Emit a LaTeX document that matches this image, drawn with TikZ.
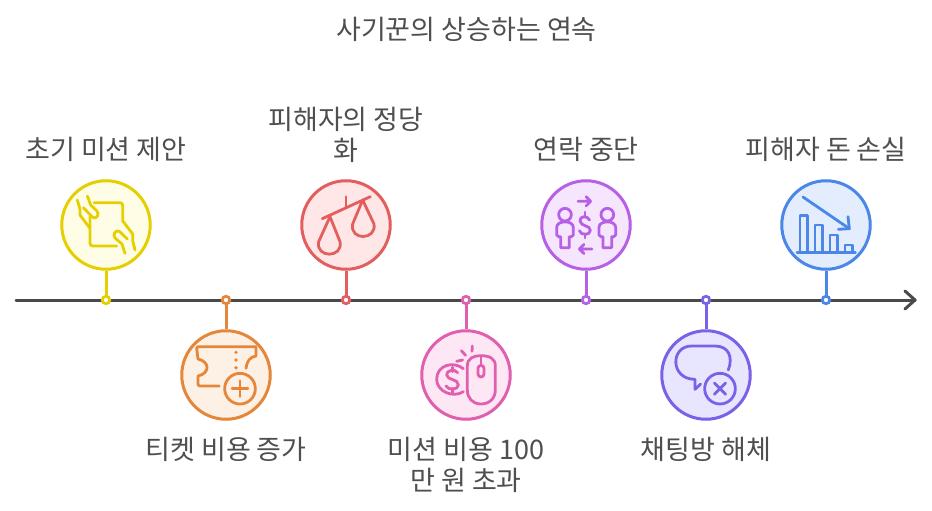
\documentclass[tikz,border=0pt]{standalone}
\usepackage{fontspec}
\setmainfont{Noto Sans CJK KR}
\definecolor{yel}{HTML}{E6CF00}\definecolor{yelf}{HTML}{FFFDE6}
\definecolor{ora}{HTML}{E5873B}\definecolor{oraf}{HTML}{FDF0E4}
\definecolor{red1}{HTML}{E35F5F}\definecolor{red1f}{HTML}{FEE7E6}
\definecolor{pin}{HTML}{E05FAE}\definecolor{pinf}{HTML}{FDE7F5}
\definecolor{pur}{HTML}{B760E6}\definecolor{purf}{HTML}{F5E6FE}
\definecolor{vio}{HTML}{7B61E8}\definecolor{viof}{HTML}{E8E5FF}
\definecolor{blu}{HTML}{4A87E8}\definecolor{bluf}{HTML}{E3EDFE}
\definecolor{axisc}{HTML}{4A4A4A}\definecolor{txt}{HTML}{4F4F4F}
\tikzset{
 disc/.style={circle,draw=#1,fill=#1f,line width=3pt,minimum size=88.5pt,inner sep=0pt},
 dotn/.style={circle,draw=#1,fill=white,line width=2.7pt,minimum size=7.5pt,inner sep=0pt},
 stem/.style={draw=#1,line width=3pt},
 ico/.style={draw=#1,line width=2.8pt,line cap=round,line join=round},
 lab/.style={text=txt,font=\fontsize{27}{31}\selectfont,align=center,inner sep=0pt},
 axisl/.style={draw=axisc,line width=3pt,line cap=round,line join=round}
}
\begin{document}
\begin{tikzpicture}[x=1pt,y=-1pt]
\useasboundingbox (0,0) rectangle (932,511);
\fill[white] (0,0) rectangle (932,511);
\coordinate (axs) at (16,300);
\coordinate (axe) at (915,300);
\coordinate (axa) at (905,291);
\coordinate (axb) at (905,309);
\draw[axisl] (axs) -- (axe);
\draw[axisl] (axa) -- (axe) -- (axb);
\node[lab] (title) at (466.5,29.5) {사기꾼의 상승하는 연속};
% circles
\node[disc=yel] (c1) at (106,225) {};
\node[disc=ora] (c2) at (226,375) {};
\node[disc=red1] (c3) at (346,225) {};
\node[disc=pin] (c4) at (466,375) {};
\node[disc=pur] (c5) at (586,225) {};
\node[disc=vio] (c6) at (706,375) {};
\node[disc=blu] (c7) at (826,225) {};
\foreach \i/\c in {1/yel,2/ora,3/red1,4/pin,5/pur,6/vio,7/blu}{
 \pgfmathsetmacro{\xx}{106+120*(\i-1)}
 \draw[stem=\c] (c\i) -- (\xx,300);
 \node[dotn=\c] (d\i) at (\xx,300) {};
}
% labels
\node[lab] (l1) at (106,149.5) {초기 미션 제안};
\node[lab] (l2) at (226,449.5) {티켓 비용 증가};
\node[lab] (l3) at (346,134.5) {피해자의 정당\\화};
\node[lab] (l4) at (466,464.5) {미션 비용 100\\만 원 초과};
\node[lab] (l5) at (586,149.5) {연락 중단};
\node[lab] (l6) at (706,449.5) {채팅방 해체};
\node[lab] (l7) at (826,149.5) {피해자 돈 손실};
% icon 1
\begin{scope}[shift={(50,170)},scale=1/3]
\draw[ico=yel] (132,98) -- (210,98) arc (-90:0:8) -- (218,155);
\draw[ico=yel] (120,140) -- (120,220) arc (180:90:8) -- (200,228);
\draw[ico=yel] (82,90) -- (90,118) -- (90,135) -- (120,175);
\draw[ico=yel] (112,78) -- (122,105) -- (140,122) .. controls (150,132) and (140,150) .. (128,142) -- (100,113);
\draw[ico=yel] (255,240) -- (248,212) -- (248,192) -- (220,155);
\draw[ico=yel] (225,250) -- (216,222) -- (196,205) .. controls (186,195) and (196,178) .. (208,184) -- (232,207);
\end{scope}
% icon 2
\begin{scope}[shift={(170,290)},scale=1/3]
\draw[ico=ora] (148,288) -- (90,288) arc (90:180:6) -- (84,258) .. controls (120,250) and (120,215) .. (84,207) -- (80,176) arc (180:270:6) -- (258,170) -- (258,198) .. controls (240,200) and (230,215) .. (228,235);
\fill[ora] (198,187) circle (5.5) (198,210) circle (5.5) (198,233) circle (5.5);
\draw[ico=ora] (210,296) circle (46);
\draw[ico=ora] (210,272) -- (210,320) (186,296) -- (234,296);
\end{scope}
% icon 3
\begin{scope}[shift={(290,170)},scale=1/3]
\draw[ico=red1] (97,146) -- (241,80);
\draw[ico=red1] (168,80) -- (168,112);
\draw[ico=red1] (120,140) -- (86,215) .. controls (76,265) and (160,265) .. (150,215) -- cycle;
\draw[ico=red1] (218,90) -- (188,162) .. controls (178,212) and (260,212) .. (252,162) -- cycle;
\end{scope}
% icon 4
\begin{scope}[shift={(410,290)},scale=1/3]
\draw[ico=pin] (172,228) .. controls (172,205) and (190,197) .. (212,197) .. controls (238,197) and (256,205) .. (256,228) -- (256,300) .. controls (256,325) and (238,342) .. (213,342) .. controls (188,342) and (172,325) .. (172,300) -- cycle;
\draw[ico=pin] (213,197) -- (213,226);
\draw[ico=pin] (204,235) arc (180:360:9) -- (222,252) arc (0:180:9) -- cycle;
\draw[ico=pin] (160,236) .. controls (130,212) and (80,225) .. (80,268) .. controls (80,305) and (130,325) .. (160,305);
\draw[ico=pin] (143,248) .. controls (135,236) and (108,240) .. (110,255) .. controls (112,272) and (145,265) .. (145,285) .. controls (145,300) and (115,302) .. (108,288);
\draw[ico=pin] (127,232) -- (127,245) (127,295) -- (127,308);
\draw[ico=pin] (140,214) -- (158,210) (154,182) -- (167,196) (187,168) -- (186,184);
\end{scope}
% icon 5
\begin{scope}[shift={(530,170)},scale=1/3]
\draw[ico=pur] (105,134) circle (19);
\draw[ico=pur] (92,233) -- (118,233) -- (118,200) -- (124,200) -- (130,195) -- (130,172) .. controls (130,150) and (80,150) .. (80,172) -- (80,195) -- (86,200) -- (92,200) -- cycle;
\draw[ico=pur] (232,134) circle (19);
\draw[ico=pur] (219,233) -- (245,233) -- (245,200) -- (251,200) -- (257,195) -- (257,172) .. controls (257,150) and (207,150) .. (207,172) -- (207,195) -- (213,200) -- (219,200) -- cycle;
\draw[ico=pur] (144,94) -- (182,94) (168,80) -- (182,94) -- (168,108);
\draw[ico=pur] (186,237) -- (148,237) (162,223) -- (148,237) -- (162,251);
\draw[ico=pur] (179,150) .. controls (172,135) and (148,138) .. (150,153) .. controls (152,170) and (181,165) .. (181,181) .. controls (181,197) and (152,197) .. (148,182);
\draw[ico=pur] (165,126) -- (165,138) (165,192) -- (165,204);
\end{scope}
% icon 6
\begin{scope}[shift={(650,290)},scale=1/3]
\draw[ico=vio] (235,240) .. controls (250,200) and (235,168) .. (195,168) -- (125,168) .. controls (60,168) and (60,268) .. (135,268) -- (135,298) -- (152,282);
\draw[ico=vio] (210,296) circle (46);
\draw[ico=vio] (193,279) -- (227,313) (227,279) -- (193,313);
\end{scope}
% icon 7
\begin{scope}[shift={(770,170)},scale=1/3]
\draw[ico=blu] (99,81) -- (238,176);
\draw[ico=blu] (234,140) -- (238,176) -- (205,178);
\draw[ico=blu] (81,247) -- (256,247);
\draw[ico=blu] (90,247) -- (90,136) -- (112,136) -- (112,247);
\draw[ico=blu] (135,247) -- (135,165) -- (157,165) -- (157,247);
\draw[ico=blu] (180,247) -- (180,195) -- (202,195) -- (202,247);
\draw[ico=blu] (225,247) -- (225,225) -- (247,225) -- (247,247);
\end{scope}
\end{tikzpicture}
\end{document}
